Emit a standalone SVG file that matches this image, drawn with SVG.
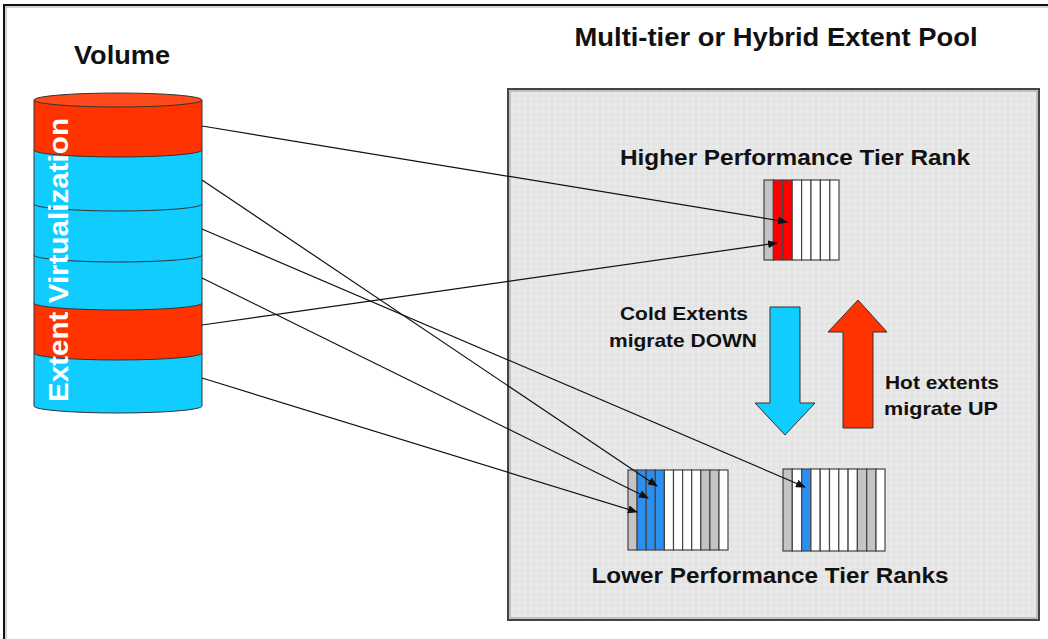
<svg xmlns="http://www.w3.org/2000/svg" width="1048" height="639" viewBox="0 0 1048 639">
  <defs>
    <style>
      .t { font-family: "Liberation Sans", Arial, sans-serif; font-weight: bold; fill: #111; }
      .link { fill: none; stroke: #111; stroke-width: 1.2; marker-end: url(#tip); }
      .band { stroke: #333; stroke-width: 1; }
      .red { fill: #ff3300; }
      .cyan { fill: #11ccff; }
      .col { stroke: #444; stroke-width: 1.2; }
      .w { fill: #ffffff; }
      .g { fill: #c4c4c4; }
      .r { fill: #ff0000; }
      .b { fill: #2b8ff0; }
    </style>
    <marker id="tip" markerWidth="10" markerHeight="8" refX="9" refY="4" orient="auto" markerUnits="userSpaceOnUse">
      <path d="M0,0 L10,4 L0,8 Z" fill="#111"/>
    </marker>
    <pattern id="grain" width="6" height="6" patternUnits="userSpaceOnUse">
      <rect width="6" height="6" fill="#e4e4e4"/>
      <path d="M0,3 L3,0 L6,3 L3,6 Z" fill="#e9e9e9"/>
    </pattern>
  </defs>

  <rect width="1048" height="639" fill="#ffffff"/>

  <!-- page frame -->
  <g id="frame">
    <line x1="3" y1="5" x2="1048" y2="5" stroke="#111" stroke-width="2"/>
    <line x1="3" y1="7" x2="1048" y2="7" stroke="#aaa" stroke-width="1"/>
    <line x1="4" y1="5" x2="4" y2="639" stroke="#111" stroke-width="2"/>
    <line x1="6" y1="7" x2="6" y2="639" stroke="#aaa" stroke-width="1"/>
  </g>

  <!-- extent pool panel -->
  <g id="pool">
    <rect x="508" y="89" width="531" height="531" fill="url(#grain)" stroke="#444" stroke-width="2"/>
    <rect x="510" y="91" width="527" height="527" fill="none" stroke="#999" stroke-width="1"/>
    <text class="t" x="776" y="46" font-size="26" text-anchor="middle" textLength="403" lengthAdjust="spacingAndGlyphs">Multi-tier or Hybrid Extent Pool</text>
  </g>

  <!-- volume cylinder, painted bottom band first -->
  <g id="volume">
    <path class="band cyan" d="M34,353 L34,406 A84,7 0 0 0 202,406 L202,353 Z"/>
    <path class="band red" d="M34,303 L34,353 A84,7 0 0 0 202,353 L202,303 Z"/>
    <path class="band cyan" d="M34,255 L34,303 A84,7 0 0 0 202,303 L202,255 Z"/>
    <path class="band cyan" d="M34,204 L34,255 A84,7 0 0 0 202,255 L202,204 Z"/>
    <path class="band cyan" d="M34,150 L34,204 A84,7 0 0 0 202,204 L202,150 Z"/>
    <path class="band red" d="M34,100 L34,150 A84,7 0 0 0 202,150 L202,100 Z"/>
    <ellipse cx="118" cy="100" rx="84" ry="7" fill="#ff4a1c" stroke="#333" stroke-width="1"/>
    <text x="68" y="402" transform="rotate(-90 68 402)" font-family="'Liberation Sans', Arial, sans-serif" font-weight="bold" font-size="28" fill="#ffffff" textLength="284" lengthAdjust="spacingAndGlyphs">Extent Virtualization</text>
    <text class="t" x="122" y="64" font-size="26" text-anchor="middle" textLength="96" lengthAdjust="spacingAndGlyphs">Volume</text>
  </g>

  <!-- higher performance tier rank -->
  <g id="rank-high">
    <rect class="col g" x="764" y="180" width="9.4" height="80"/>
    <rect class="col r" x="773.4" y="180" width="9.4" height="80"/>
    <rect class="col r" x="782.8" y="180" width="9.4" height="80"/>
    <rect class="col w" x="792.2" y="180" width="9.4" height="80"/>
    <rect class="col w" x="801.6" y="180" width="9.4" height="80"/>
    <rect class="col w" x="811" y="180" width="9.4" height="80"/>
    <rect class="col w" x="820.4" y="180" width="9.4" height="80"/>
    <rect class="col w" x="829.8" y="180" width="9.2" height="80"/>
    <text class="t" x="795" y="165" font-size="22" text-anchor="middle" textLength="350" lengthAdjust="spacingAndGlyphs">Higher Performance Tier Rank</text>
  </g>

  <!-- lower performance tier ranks -->
  <g id="rank-low-1">
    <rect class="col g" x="628" y="470" width="9.1" height="80"/>
    <rect class="col b" x="637.1" y="470" width="9.1" height="80"/>
    <rect class="col b" x="646.2" y="470" width="9.1" height="80"/>
    <rect class="col b" x="655.3" y="470" width="9.1" height="80"/>
    <rect class="col w" x="664.4" y="470" width="9.1" height="80"/>
    <rect class="col w" x="673.5" y="470" width="9.1" height="80"/>
    <rect class="col w" x="682.6" y="470" width="9.1" height="80"/>
    <rect class="col w" x="691.7" y="470" width="9.1" height="80"/>
    <rect class="col g" x="700.8" y="470" width="9.1" height="80"/>
    <rect class="col g" x="709.9" y="470" width="9.1" height="80"/>
    <rect class="col w" x="719" y="470" width="9" height="80"/>
  </g>
  <g id="rank-low-2">
    <rect class="col g" x="783" y="469" width="9.3" height="82"/>
    <rect class="col w" x="792.3" y="469" width="9.3" height="82"/>
    <rect class="col b" x="801.6" y="469" width="9.3" height="82"/>
    <rect class="col w" x="810.9" y="469" width="9.3" height="82"/>
    <rect class="col w" x="820.2" y="469" width="9.3" height="82"/>
    <rect class="col w" x="829.5" y="469" width="9.3" height="82"/>
    <rect class="col w" x="838.8" y="469" width="9.3" height="82"/>
    <rect class="col w" x="848.1" y="469" width="9.3" height="82"/>
    <rect class="col g" x="857.4" y="469" width="9.3" height="82"/>
    <rect class="col g" x="866.7" y="469" width="9.3" height="82"/>
    <rect class="col w" x="876" y="469" width="9" height="82"/>
  </g>
  <g id="label-low">
    <text class="t" x="770" y="583" font-size="22" text-anchor="middle" textLength="357" lengthAdjust="spacingAndGlyphs">Lower Performance Tier Ranks</text>
  </g>

  <!-- migration arrows -->
  <g id="migrate-down">
    <path d="M770,307 L800,307 L800,403 L815,403 L785,435 L755,403 L770,403 Z" fill="#11ccff" stroke="#333" stroke-width="1"/>
    <text class="t" x="684" y="320" font-size="19" text-anchor="middle" textLength="128" lengthAdjust="spacingAndGlyphs">Cold Extents</text>
    <text class="t" x="683" y="347" font-size="19" text-anchor="middle" textLength="148" lengthAdjust="spacingAndGlyphs">migrate DOWN</text>
  </g>
  <g id="migrate-up">
    <path d="M843,428 L873,428 L873,332 L887,332 L858,300 L828,332 L843,332 Z" fill="#ff3300" stroke="#333" stroke-width="1"/>
    <text class="t" x="942" y="389" font-size="19" text-anchor="middle" textLength="114" lengthAdjust="spacingAndGlyphs">Hot extents</text>
    <text class="t" x="941" y="415" font-size="19" text-anchor="middle" textLength="114" lengthAdjust="spacingAndGlyphs">migrate UP</text>
  </g>

  <!-- extent mappings -->
  <g id="connectors">
    <line class="link" x1="202" y1="126" x2="787" y2="222"/>
    <line class="link" x1="202" y1="325" x2="777" y2="243"/>
    <line class="link" x1="202" y1="180" x2="657" y2="486"/>
    <line class="link" x1="202" y1="229" x2="805" y2="487"/>
    <line class="link" x1="202" y1="278" x2="648" y2="498"/>
    <line class="link" x1="202" y1="378" x2="637" y2="512"/>
  </g>
</svg>
